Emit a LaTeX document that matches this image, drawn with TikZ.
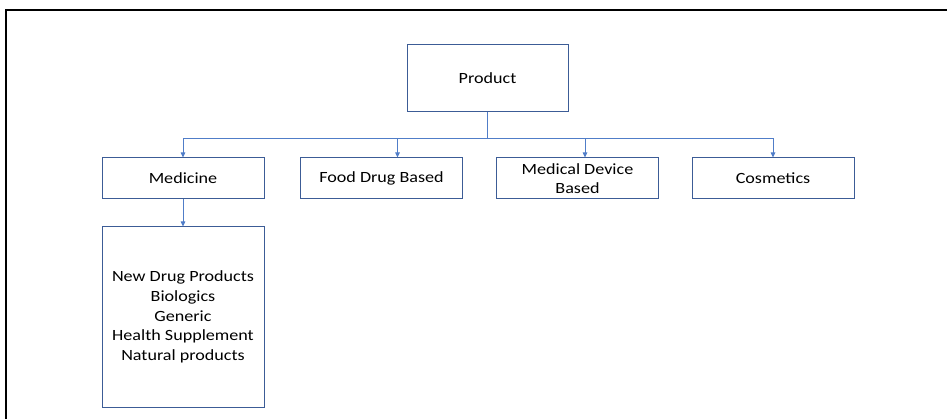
\documentclass[tikz,border=0pt]{standalone}
\usepackage{fontspec}
\setmainfont[FakeStretch=1.16]{Carlito}
\usetikzlibrary{arrows.meta}
\definecolor{boxblue}{RGB}{60,92,150}
\definecolor{lineblue}{RGB}{80,125,200}
\begin{document}
\begin{tikzpicture}[x=1pt,y=-1pt,
  box/.style={draw=boxblue, line width=1pt, fill=white, rectangle, inner sep=0pt,
    align=center, font=\fontsize{15.6}{19.7}\selectfont, text=black},
  rowbox/.style={box, minimum width=162pt, minimum height=41pt},
  conn/.style={draw=lineblue, line width=0.8pt},
  arr/.style={conn, -{Triangle[length=5pt,width=4.5pt]}}]
\useasboundingbox (0,0) rectangle (947,419);
\draw[black, line width=2pt] (5.5,419) -- (5.5,10.5) -- (947,10.5);
\node[box, minimum width=161pt, minimum height=67pt] (product) at (487.5,78.5) {Product};
\node[rowbox] (medicine) at (183,178.5) {Medicine};
\node[rowbox] (food) at (381.5,178.5) {Food Drug Based};
\node[rowbox] (device) at (577.5,178.5) {Medical Device\\Based};
\node[rowbox] (cosmetics) at (773,178.5) {Cosmetics};
\node[box, minimum width=162pt, minimum height=180pt] (list) at (183,317) {New Drug Products\\Biologics\\Generic\\Health Supplement\\Natural products};
\coordinate (bus) at (487.5,138.5);
\coordinate (j1) at (183,138.5);
\coordinate (j2) at (397.5,138.5);
\coordinate (j3) at (585,138.5);
\coordinate (j4) at (773,138.5);
\draw[conn] (product.south) -- (bus);
\draw[conn] (j1) -- (j4);
\draw[arr] (j1) -- (medicine.north);
\draw[arr] (j2) -- (j2 |- food.north);
\draw[arr] (j3) -- (j3 |- device.north);
\draw[arr] (j4) -- (cosmetics.north);
\draw[arr] (medicine.south) -- (list.north);
\end{tikzpicture}
\end{document}
